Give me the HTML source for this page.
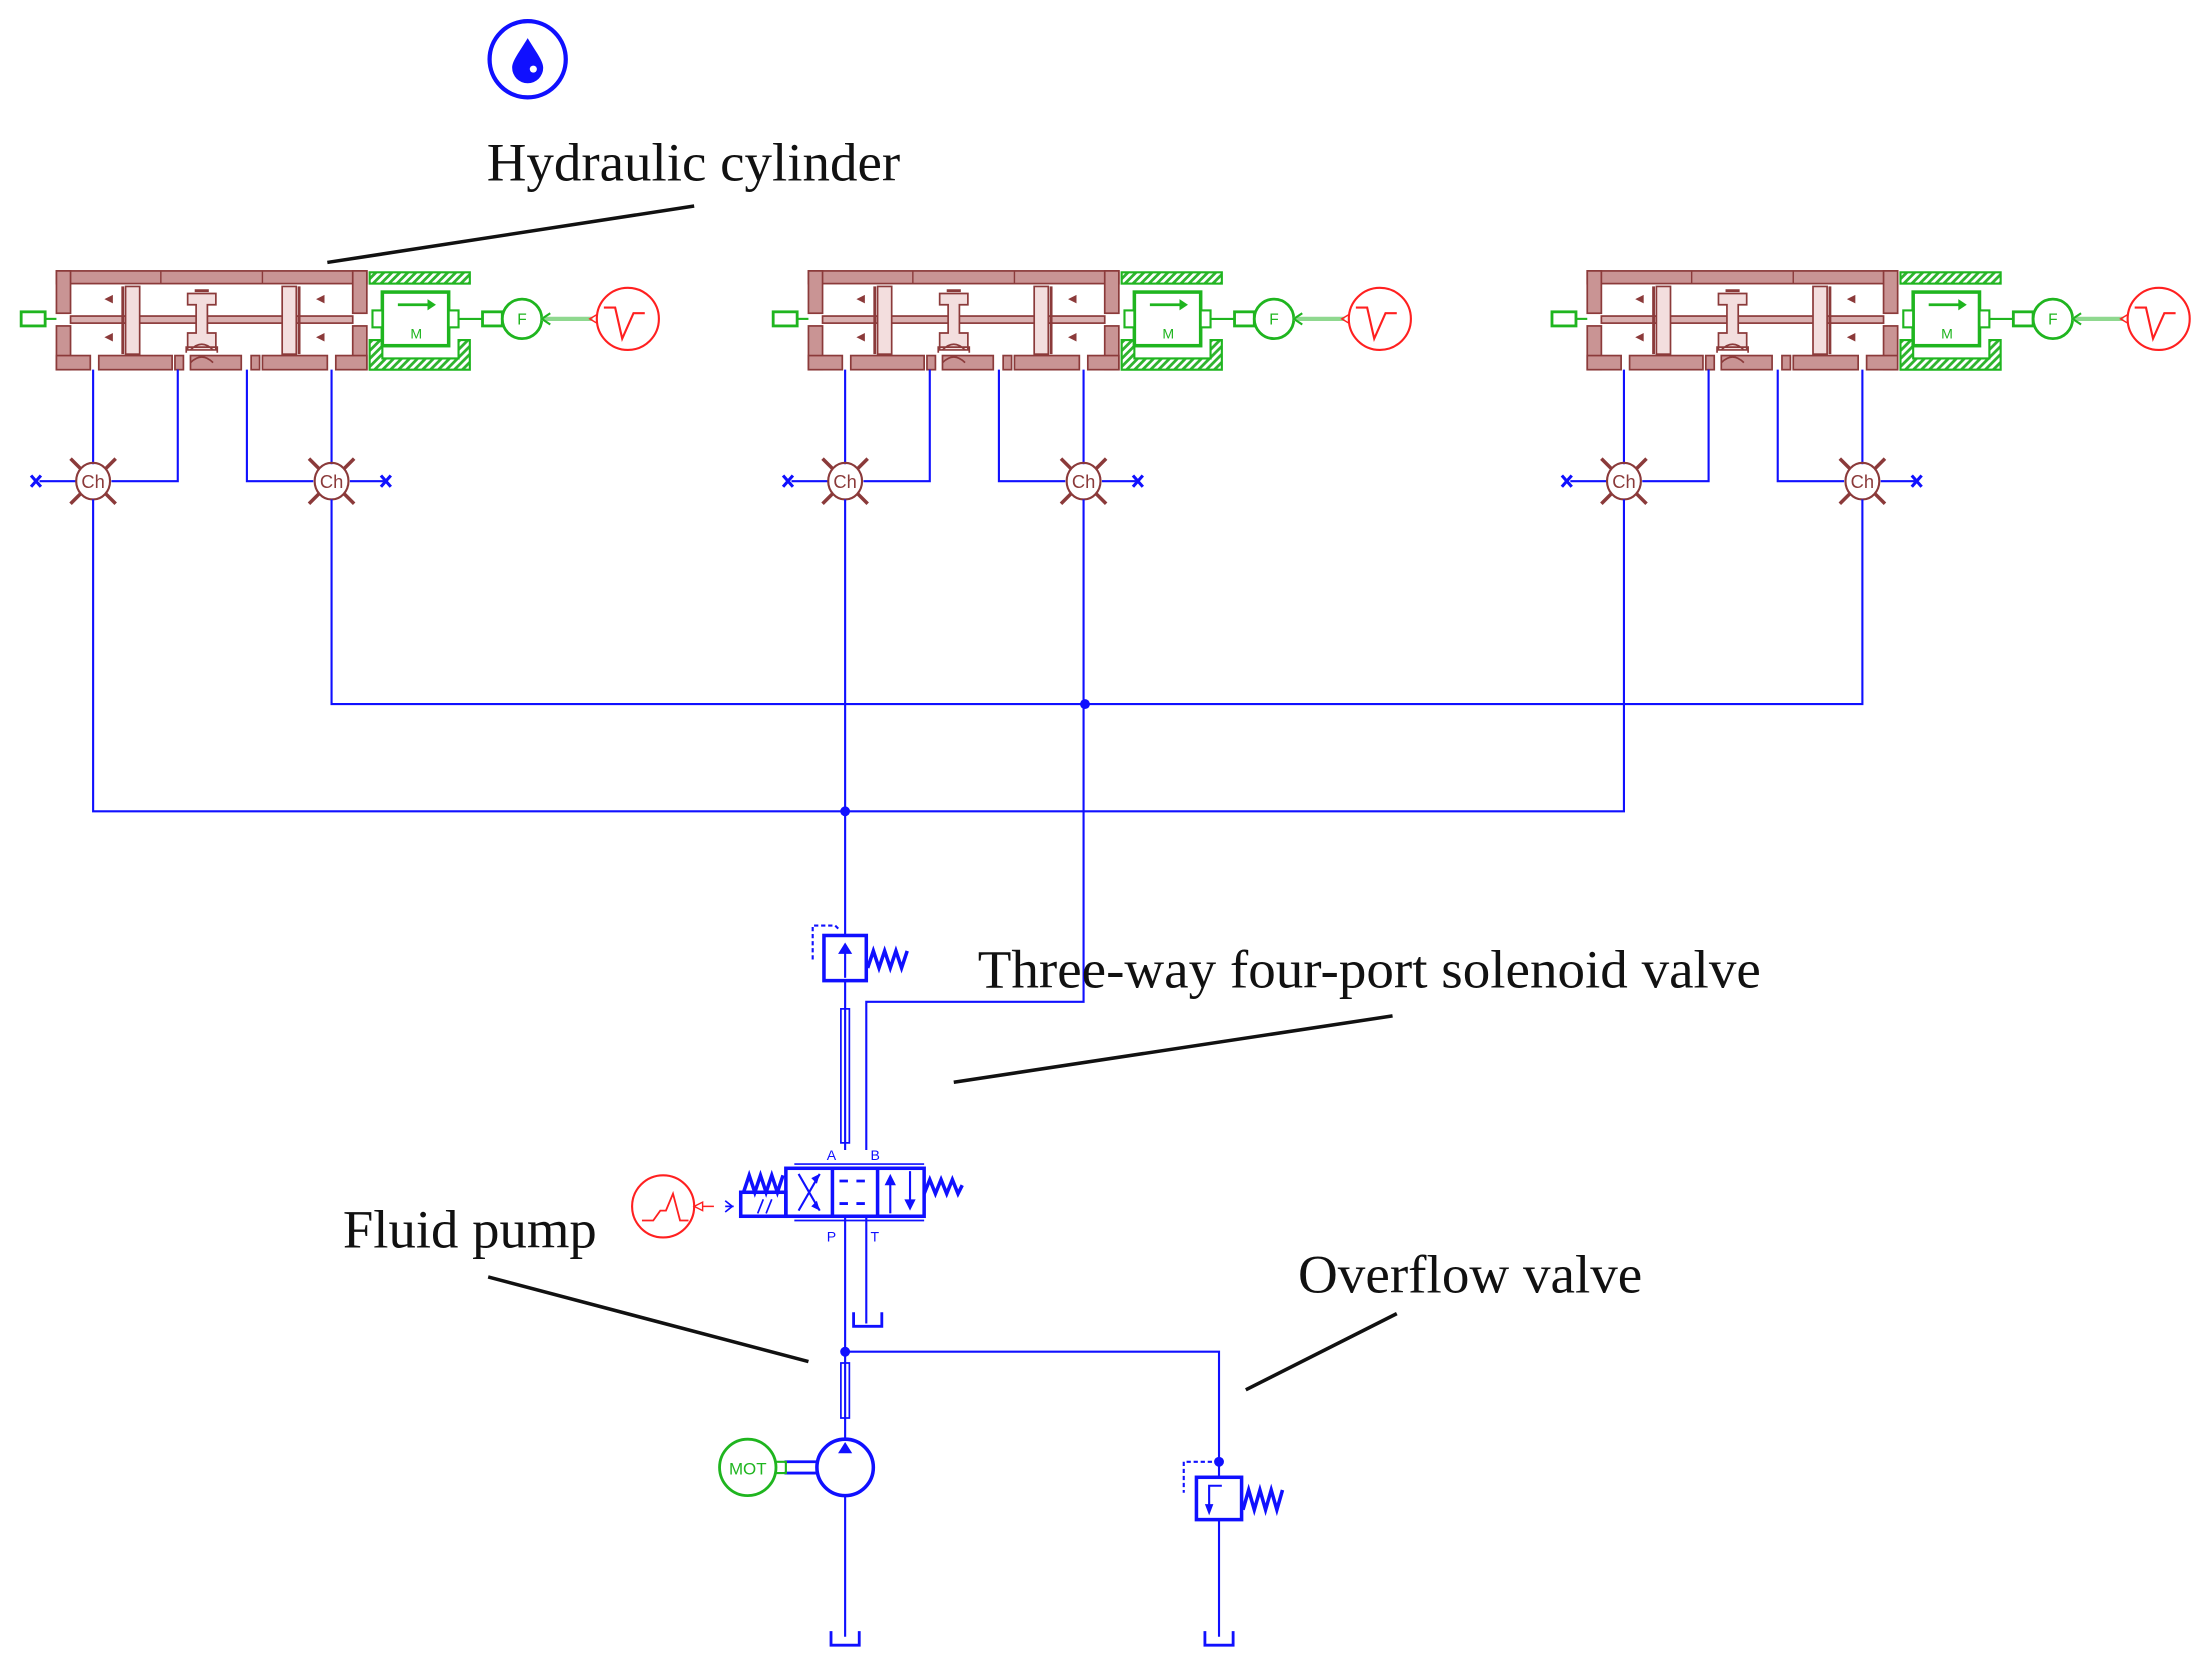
<!DOCTYPE html>
<html><head><meta charset="utf-8"><style>
html,body{margin:0;padding:0;background:#fff}
svg{display:block}
</style></head><body>
<svg width="2201" height="1672" viewBox="0 0 1560 1185" preserveAspectRatio="none" xmlns="http://www.w3.org/2000/svg" font-family="Liberation Sans, sans-serif">
<defs>
<pattern id="h" width="4" height="4" patternUnits="userSpaceOnUse" patternTransform="rotate(45)"><rect width="4" height="4" fill="#fff"/><rect width="2" height="4" fill="#2fb52f"/></pattern>
</defs>
<rect width="1560" height="1185" fill="#fff"/>

<circle cx="374" cy="42" r="27" fill="none" stroke="#1010ff" stroke-width="3"/>
<path d="M374 27 C368 37 363 43 363 48 A11 11 0 0 0 385 48 C385 43 380 37 374 27 Z" fill="#1010ff"/>
<circle cx="378" cy="49" r="2.5" fill="#fff"/>

<g id="u1">
<g stroke="#8b3a3a" stroke-width="1.2" fill="#c99494">
<rect x="40" y="192" width="220" height="9"/>
<rect x="40" y="192" width="10" height="30"/><rect x="40" y="231" width="10" height="31"/>
<rect x="250" y="192" width="10" height="30"/><rect x="250" y="231" width="10" height="31"/>
<rect x="40" y="252" width="24" height="10"/><rect x="70" y="252" width="52" height="10"/>
<rect x="124" y="252" width="6" height="10"/><rect x="135" y="252" width="36" height="10"/>
<rect x="178" y="252" width="6" height="10"/><rect x="186" y="252" width="46" height="10"/>
<rect x="238" y="252" width="22" height="10"/>
<rect x="50" y="224" width="200" height="5" fill="#d9b0b0"/>
<rect x="89" y="203" width="10" height="48" fill="#f3dede"/>
<rect x="200" y="203" width="10" height="48" fill="#f3dede"/>
<path d="M133 208 h20 v8 h-6 v20 h6 v12 h-20 v-12 h6 v-20 h-6 z" fill="#f3dede"/>
</g>
<line x1="114" y1="192" x2="114" y2="201" stroke="#8b3a3a"/><line x1="186" y1="192" x2="186" y2="201" stroke="#8b3a3a"/>
<line x1="87" y1="203" x2="87" y2="251" stroke="#8b3a3a" stroke-width="2"/><line x1="212" y1="203" x2="212" y2="251" stroke="#8b3a3a" stroke-width="2"/>
<rect x="138" y="205" width="10" height="2" fill="#8b3a3a"/>
<path d="M132 250 v-4 h22 v4 M135 248 q8 -8 16 0 M135 257 q8 -8 16 0" stroke="#8b3a3a" fill="none" stroke-width="1.2"/>
<g fill="#8b3a3a"><path d="M74 212 l6 -3 v6z"/><path d="M74 239 l6 -3 v6z"/><path d="M224 212 l6 -3 v6z"/><path d="M224 239 l6 -3 v6z"/></g>
<rect x="15" y="221" width="17" height="10" fill="none" stroke="#1fb51f" stroke-width="2"/>
<line x1="32" y1="226" x2="40" y2="226" stroke="#1fb51f" stroke-width="1.5"/>
<rect x="262" y="193" width="71" height="8" fill="url(#h)" stroke="#1fb51f" stroke-width="1.5"/>
<path d="M262 241 h9 v13 h54 v-13 h8 v21 h-71 z" fill="url(#h)" stroke="#1fb51f" stroke-width="1.5"/>
<rect x="271" y="207" width="47" height="38" fill="#fff" stroke="#1fb51f" stroke-width="2.5"/>
<rect x="264" y="220" width="7" height="12" fill="#fff" stroke="#1fb51f" stroke-width="1.5"/>
<rect x="318" y="220" width="7" height="12" fill="#fff" stroke="#1fb51f" stroke-width="1.5"/>
<line x1="282" y1="216" x2="304" y2="216" stroke="#1fb51f" stroke-width="2"/><path d="M303 212 l6 4 l-6 4z" fill="#1fb51f"/>
<text x="295" y="240" font-size="10" fill="#1fb51f" text-anchor="middle">M</text>
<line x1="325" y1="226" x2="342" y2="226" stroke="#1fb51f" stroke-width="1.5"/>
<rect x="342" y="221" width="14" height="10" fill="none" stroke="#1fb51f" stroke-width="2"/>
<circle cx="370" cy="226" r="14" fill="#fff" stroke="#1fb51f" stroke-width="2"/>
<text x="370" y="230" font-size="11" fill="#1fb51f" text-anchor="middle">F</text>
<line x1="384" y1="226" x2="420" y2="226" stroke="#8fd88f" stroke-width="3"/>
<path d="M384 226 l6 -4 M384 226 l6 4" stroke="#1fb51f" stroke-width="1.5"/>
<circle cx="445" cy="226" r="22" fill="#fff" stroke="#ff2020" stroke-width="1.5"/>
<path d="M418 226 l5 -3 v6z" fill="none" stroke="#ff2020"/>
<path d="M428 218 h8 l5 22 l8 -18 h8" stroke="#ff2020" fill="none" stroke-width="1.5"/>
<g stroke="#1010ff" stroke-width="1.5" fill="none">
<path d="M66 262 V329 M126 262 V341 H79 M175 262 V341 H222 M235 262 V329"/>
<path d="M54 341 H28 M248 341 H272"/>
</g>
<g stroke="#1010ff" stroke-width="2.2"><path d="M22 337 l7 8 M22 345 l7 -8 M270 337 l7 8 M270 345 l7 -8"/></g>
<g stroke="#8b3a3a" fill="none" stroke-width="1.5">
<ellipse cx="66" cy="341" rx="12" ry="13"/><ellipse cx="235" cy="341" rx="12" ry="13"/>
<path d="M50 325 l7 7 M82 325 l-7 7 M50 357 l7 -7 M82 357 l-7 -7 M219 325 l7 7 M251 325 l-7 7 M219 357 l7 -7 M251 357 l-7 -7" stroke-width="2.5"/>
</g>
<text x="66" y="346" font-size="13" fill="#8b3a3a" text-anchor="middle">Ch</text>
<text x="235" y="346" font-size="13" fill="#8b3a3a" text-anchor="middle">Ch</text>
</g>
<use href="#u1" transform="translate(533,0)"/>
<use href="#u1" transform="translate(1085,0)"/>

<g stroke="#1010ff" stroke-width="1.5" fill="none">
<path d="M66 354 V575 H1151 V354"/>
<path d="M235 354 V499 H1320 V354"/>
<path d="M599 354 V663"/>
<path d="M768 354 V710 H614 V815"/>
<path d="M599 695 V815"/>
<path d="M596 715 V810 H602 V715 Z" stroke-width="1.2"/>
<path d="M599 862 V1020 M614 862 V938"/>
<path d="M599 958 H864 V1047 M864 1077 V1160 M599 1060 V1160"/>
<path d="M596 966 V1005 H602 V966 Z" stroke-width="1.2"/>
</g>
<g fill="#1010ff"><circle cx="769" cy="499" r="3.5"/><circle cx="599" cy="575" r="3.5"/><circle cx="599" cy="958" r="3.5"/><circle cx="864" cy="1036" r="3.5"/></g>
<g stroke="#1010ff" stroke-width="2" fill="none"><path d="M605 930 v10 h20 v-10 M589 1156 v10 h20 v-10 M854 1156 v10 h20 v-10"/></g>

<rect x="584" y="663" width="30" height="32" fill="none" stroke="#1010ff" stroke-width="2.5"/>
<path d="M599 693 V670" stroke="#1010ff" stroke-width="1.5"/><path d="M594 676 l5 -8 l5 8z" fill="#1010ff"/>
<path d="M576 680 V656 H592 l3 3" stroke="#1010ff" stroke-width="1.5" stroke-dasharray="3 2" fill="none"/>
<path d="M615 686 l4 -12 l4 12 l4 -12 l4 12 l4 -12 l4 12 l4 -12" stroke="#1010ff" stroke-width="2.5" fill="none"/>

<g stroke="#1010ff" fill="none">
<rect x="557" y="828" width="98" height="34" stroke-width="2.5"/>
<path d="M590 828 V862 M622 828 V862" stroke-width="2.5"/>
<path d="M563 825 H655 M563 865 H655" stroke-width="1.2"/>
<rect x="525" y="845" width="32" height="17" stroke-width="2.5"/>
<path d="M537 860 l4 -10 M543 860 l4 -10" stroke-width="1.2"/>
<path d="M527 845 l4 -12 l4 12 l4 -12 l4 12 l4 -12 l4 12 l4 -12" stroke-width="2.5"/>
<path d="M655 846 l4 -10 l4 10 l4 -10 l4 10 l4 -10 l4 10 l3 -6" stroke-width="2.5"/>
<path d="M566 832 l15 26 M566 858 l15 -26" stroke-width="1.5"/>
<path d="M595 837 h6 M607 837 h6 M595 853 h6 M607 853 h6" stroke-width="2"/>
<path d="M631 860 V834 M645 830 V856" stroke-width="1.5"/>
<path d="M514 855 H520" stroke-width="1.2"/><path d="M514 851 l5 4 l-5 4" stroke-width="1.2"/>
</g>
<g fill="#1010ff"><path d="M631 832 l-4 8 h8z"/><path d="M645 858 l-4 -8 h8z"/><path d="M581 832 l-6 3 l4 4z"/><path d="M581 858 l-6 -3 l4 -4z"/></g>
<g font-size="10" fill="#1010ff"><text x="586" y="822">A</text><text x="617" y="822">B</text><text x="586" y="880">P</text><text x="617" y="880">T</text></g>
<circle cx="470" cy="855" r="22" fill="none" stroke="#ff2020" stroke-width="1.5"/>
<path d="M455 865 h8 l5 -7 h4 l5 -12 l5 19 h6" stroke="#ff2020" fill="none" stroke-width="1.3"/>
<path d="M492 855 l6 -3 v6z M498 855 H506" stroke="#ff2020" fill="none"/>

<circle cx="599" cy="1040" r="20" fill="#fff" stroke="#1010ff" stroke-width="2.5"/>
<path d="M594 1030 l5 -8 l5 8z" fill="#1010ff"/>
<path d="M556 1036 H579 M556 1044 H579" stroke="#1010ff" stroke-width="2"/>
<circle cx="530" cy="1040" r="20" fill="#fff" stroke="#1fb51f" stroke-width="2"/>
<text x="530" y="1045" font-size="12" fill="#1fb51f" text-anchor="middle">MOT</text>
<path d="M550 1036 H557 V1044 H550" stroke="#1fb51f" stroke-width="1.5" fill="none"/>

<rect x="848" y="1047" width="32" height="30" fill="none" stroke="#1010ff" stroke-width="2.5"/>
<path d="M866 1053 H857 V1070" stroke="#1010ff" stroke-width="1.5" fill="none"/><path d="M854 1066 l3 8 l3 -8z" fill="#1010ff"/>
<path d="M864 1036 H839 V1058" stroke="#1010ff" stroke-width="1.5" stroke-dasharray="3 2" fill="none"/>
<path d="M881 1070 l4 -14 l4 14 l4 -14 l4 14 l4 -14 l4 14 l4 -14" stroke="#1010ff" stroke-width="2.5" fill="none"/>

<g font-family="Liberation Serif, serif" font-size="38" fill="#111">
<text x="345" y="128" textLength="293" lengthAdjust="spacingAndGlyphs">Hydraulic cylinder</text>
<text x="693" y="700" textLength="555" lengthAdjust="spacingAndGlyphs">Three-way four-port solenoid valve</text>
<text x="243" y="884" textLength="180" lengthAdjust="spacingAndGlyphs">Fluid pump</text>
<text x="920" y="916" textLength="244" lengthAdjust="spacingAndGlyphs">Overflow valve</text>
</g>
<g stroke="#111" stroke-width="2.5">
<line x1="232" y1="186" x2="492" y2="146"/>
<line x1="676" y1="767" x2="987" y2="720"/>
<line x1="346" y1="905" x2="573" y2="965"/>
<line x1="883" y1="985" x2="990" y2="931"/>
</g>
</svg>
</body></html>
